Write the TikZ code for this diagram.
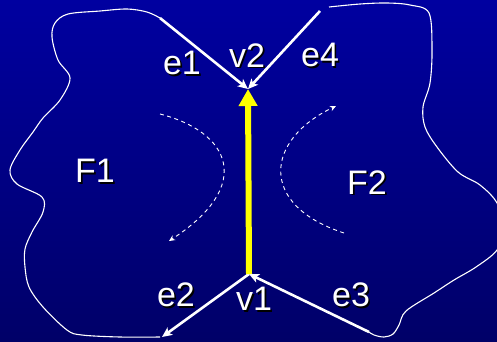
\documentclass[tikz,border=0pt]{standalone}
\usepackage{fontspec}
\setmainfont{Liberation Sans}
\usetikzlibrary{arrows.meta}
\definecolor{bgtop}{RGB}{0,0,160}
\definecolor{bgbot}{RGB}{0,0,104}
\definecolor{flipy}{RGB}{255,255,0}
\tikzset{
  edgeln/.style={draw=white, line width=2.6pt, -{Stealth[length=10pt,width=9pt,inset=2.5pt]}},
  outline/.style={draw=white, line width=1.1pt},
  rotarc/.style={draw=white, line width=0.9pt, dash pattern=on 4pt off 3.5pt, -{Stealth[length=6pt,width=5.5pt]}},
  flip/.style={draw=flipy, line width=6pt, -{Triangle[length=17pt,width=18pt]}},
  lbltxt/.style={text=white, font=\fontsize{34}{38}\selectfont, inner sep=0pt}
}
\newcommand{\shadowtext}[1]{\rlap{\kern1.7pt\raisebox{-1.7pt}{\color{black}#1}}#1}
\newcommand{\putlabel}[3]{%
  \node[lbltxt] (#1) at (#2) {\shadowtext{#3}};}
\begin{document}
\begin{tikzpicture}[x=1pt,y=-1pt]
\useasboundingbox (0,0) rectangle (497,341);
\shade[top color=bgtop, bottom color=bgbot] (0,0) rectangle (497,341);
\clip (0,0) rectangle (497,341);
% vertices and edge ends
\coordinate (v1) at (249,274);
\coordinate (v2) at (248,89);
\coordinate (a1) at (160,18);
\coordinate (a4) at (320,11);
\coordinate (a2) at (162,337);
\coordinate (a3) at (369,332);
% face outlines
\draw[outline] plot[smooth, tension=0.55] coordinates {
 (160,18) (147,12) (127,9) (100,11) (68,14) (55,23) (52,37) (58,60) (70,78)
 (60,100) (43,118) (33,132) (20,150) (10,170) (17,184) (42,197) (43,212)
 (32,232) (25,249) (25,267) (29,287) (43,307) (67,330) (82,335) (120,337) (160,337)};
\draw[outline] plot[smooth, tension=0.55] coordinates {
 (329,7) (360,4) (387,3) (410,5) (429,13) (432,50) (430,83) (423,107)
 (425,127) (437,147) (458,172) (480,185) (497,203) (503,228) (497,250)
 (476,267) (454,280) (434,293) (406,311) (399,325) (393,334) (384,337)
 (374,335) (369,332)};
% rotation arcs
\draw[rotarc] (160,114) .. controls (230,132) and (255,185) .. (169,241);
\draw[rotarc] (344,233) .. controls (258,205) and (265,140) .. (336,106);
% edges
\draw[edgeln] (a1) -- (v2);
\draw[edgeln] (a4) -- (v2);
\draw[edgeln] (v1) -- (a2);
\draw[edgeln] (a3) -- (v1);
\draw[flip] (v1) -- (v2);
% labels
\putlabel{le1}{182,64}{e1}
\putlabel{lv2}{247,56}{v2}
\putlabel{le4}{320,56}{e4}
\putlabel{lf1}{95,172}{F1}
\putlabel{lf2}{367,183}{F2}
\putlabel{le2}{176,296}{e2}
\putlabel{lv1}{254,300}{v1}
\putlabel{le3}{351,296}{e3}
\end{tikzpicture}
\end{document}
